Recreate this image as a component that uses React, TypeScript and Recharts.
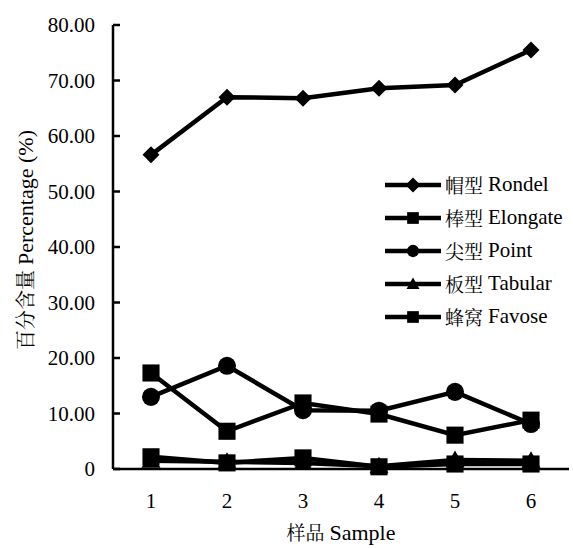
import React from 'react';
import { LineChart, Line, XAxis, YAxis } from 'recharts';

const samples = ['1', '2', '3', '4', '5', '6'];
const rondel = [56.6, 67.0, 66.8, 68.6, 69.2, 75.5];
const elongate = [17.3, 6.8, 11.9, 9.9, 6.1, 8.8];
const point = [13.0, 18.6, 10.6, 10.5, 13.9, 8.1];
const tabular = [1.5, 1.3, 1.1, 0.5, 1.6, 1.5];
const favose = [2.2, 1.1, 2.0, 0.4, 0.9, 0.9];
const yTicks = [0, 10, 20, 30, 40, 50, 60, 70, 80];

const seriesList = [
  { key: 'rondel', zh: '帽型', en: 'Rondel', shape: 'diamond' },
  { key: 'elongate', zh: '棒型', en: 'Elongate', shape: 'square' },
  { key: 'point', zh: '尖型', en: 'Point', shape: 'circle' },
  { key: 'tabular', zh: '板型', en: 'Tabular', shape: 'triangle' },
  { key: 'favose', zh: '蜂窝', en: 'Favose', shape: 'square' },
];

const data = samples.map((s, i) => ({
  sample: s,
  rondel: rondel[i],
  elongate: elongate[i],
  point: point[i],
  tabular: tabular[i],
  favose: favose[i],
}));

const LATIN = 'Liberation Serif';
const CJK = 'Noto Serif CJK SC';

function Marker({ shape, cx, cy, s }: { shape: string; cx: number; cy: number; s: number }) {
  if (cx == null || cy == null) return null;
  if (shape === 'diamond') {
    return <polygon points={`${cx},${cy - s} ${cx + s},${cy} ${cx},${cy + s} ${cx - s},${cy}`} fill="#000" />;
  }
  if (shape === 'square') {
    return <rect x={cx - s * 0.9} y={cy - s * 0.9} width={s * 1.8} height={s * 1.8} fill="#000" />;
  }
  if (shape === 'circle') {
    return <circle cx={cx} cy={cy} r={s * 0.95} fill="#000" />;
  }
  return <polygon points={`${cx},${cy - s} ${cx + s},${cy + s * 0.75} ${cx - s},${cy + s * 0.75}`} fill="#000" />;
}

function LegendBox() {
  return (
    <div style={{ position: 'absolute', left: 383, top: 168, fontSize: 21, color: '#000' }}>
      {seriesList.map((s) => (
        <div key={s.key} style={{ display: 'flex', alignItems: 'center', height: 33, whiteSpace: 'nowrap' }}>
          <svg width={60} height={20}>
            <line x1={2} y1={10} x2={58} y2={10} stroke="#000" strokeWidth={4.5} />
            <Marker shape={s.shape} cx={30} cy={10} s={s.shape === 'diamond' ? 7.5 : 6.5} />
          </svg>
          <span style={{ marginLeft: 2, fontFamily: CJK, fontSize: 19 }}>{s.zh}</span>
          <span style={{ marginLeft: 5, fontFamily: LATIN }}>{s.en}</span>
        </div>
      ))}
    </div>
  );
}

export default function App() {
  return (
    <div style={{ position: 'absolute', left: 0, top: 0, width: 573, height: 548, background: '#fff' }}>
      <LineChart width={573} height={548} data={data} margin={{ top: 25, right: 4, bottom: 0, left: 8 }}>
        <XAxis
          dataKey="sample"
          height={79}
          padding={{ left: 38, right: 38 }}
          tickLine={false}
          tickSize={0}
          tickMargin={24}
          axisLine={{ stroke: '#000', strokeWidth: 2.5 }}
          tick={{ fill: '#000', fontSize: 21, fontFamily: LATIN }}
          label={{
            content: () => (
              <text x={341} y={540} textAnchor="middle" fontSize={22} fill="#000">
                <tspan fontFamily={CJK} fontSize={19}>样品</tspan>
                <tspan fontFamily={LATIN} dx={5}>Sample</tspan>
              </text>
            ),
          }}
        />
        <YAxis
          width={105}
          domain={[0, 80]}
          ticks={yTicks}
          interval={0}
          tickSize={-7}
          tickMargin={25}
          tickFormatter={(v: number) => (v === 0 ? '0' : v.toFixed(2))}
          axisLine={{ stroke: '#000', strokeWidth: 2.5 }}
          tickLine={{ stroke: '#000', strokeWidth: 2.5 }}
          tick={{ fill: '#000', fontSize: 21, fontFamily: LATIN }}
          label={{
            content: () => (
              <text
                x={33}
                y={240}
                textAnchor="middle"
                fontSize={22}
                fill="#000"
                transform="rotate(-90 33 240)"
              >
                <tspan fontFamily={CJK} fontSize={20}>百分含量</tspan>
                <tspan fontFamily={LATIN} dx={5}>Percentage (%)</tspan>
              </text>
            ),
          }}
        />
        {seriesList.map((s) => (
          <Line
            key={s.key}
            dataKey={s.key}
            name={`${s.zh} ${s.en}`}
            stroke="#000"
            strokeWidth={4.5}
            isAnimationActive={false}
            dot={(p: any) => (
              <Marker key={`${s.key}-${p.index}`} shape={s.shape} cx={p.cx} cy={p.cy} s={s.shape === 'diamond' ? 8.5 : 9.5} />
            )}
            activeDot={false}
          />
        ))}
      </LineChart>
      <LegendBox />
    </div>
  );
}
